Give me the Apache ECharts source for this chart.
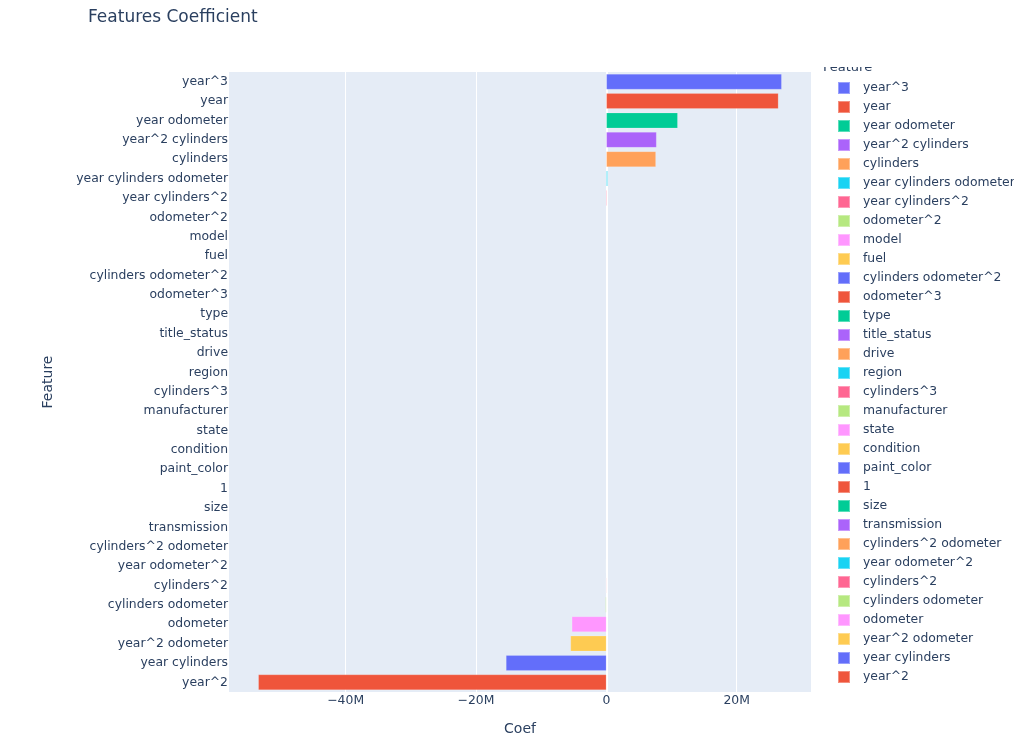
<!DOCTYPE html>
<html>
<head>
<meta charset="utf-8">
<script src="https://cdn.jsdelivr.net/npm/echarts@6/dist/echarts.min.js"></script>
<style>html,body{margin:0;padding:0;background:#fff;}#chart{width:1014px;height:741px;}</style>
</head>
<body>
<div id="chart"></div>
<script>
const features = ["year^3","year","year odometer","year^2 cylinders","cylinders","year cylinders odometer","year cylinders^2","odometer^2","model","fuel","cylinders odometer^2","odometer^3","type","title_status","drive","region","cylinders^3","manufacturer","state","condition","paint_color","1","size","transmission","cylinders^2 odometer","year odometer^2","cylinders^2","cylinders odometer","odometer","year^2 odometer","year cylinders","year^2"];
const coefs = [26.9e6,26.4e6,10.95e6,7.7e6,7.6e6,0.2e6,0.12e6,0.05e6,0.03e6,0.02e6,0.015e6,0.01e6,0.008e6,0.006e6,0.005e6,0.004e6,0.003e6,0.002e6,0.001e6,0.0005e6,0.0002e6,0,-0.0005e6,-0.001e6,-0.003e6,-0.06e6,-0.09e6,-0.13e6,-5.3e6,-5.5e6,-15.4e6,-53.4e6];
const xTicks = [-40e6,-20e6,0,20e6];
const palette = ['#636efa','#EF553B','#00cc96','#ab63fa','#FFA15A','#19d3f3','#FF6692','#B6E880','#FF97FF','#FECB52'];

const FONT = '"DejaVu Sans", verdana, arial, sans-serif';
const FS = 12.4;
const fmt = v => v === 0 ? '0' : (v < 0 ? '\u2212' : '') + Math.abs(v/1e6) + 'M';
const series = features.map((f, i) => ({
  name: f,
  type: 'bar',
  stack: 'all',
  barWidth: '80%',
  itemStyle: {color: palette[i % palette.length], borderColor: 'rgba(255,255,255,0.35)', borderWidth: 0.5},
  data: features.map((g, j) => j === i ? coefs[i] : null),
  markLine: i === 0 ? {silent: true, symbol: 'none', label: {show: false}, lineStyle: {color: '#fff', width: 2, type: 'solid'}, data: [{xAxis: 0}], z: 1} : undefined
}));

const chart = echarts.init(document.getElementById('chart'));
chart.setOption({
  animation: false,
  backgroundColor: '#fff',
  textStyle: {fontFamily: FONT},
  title: {text: 'Features Coefficient', left: 83, top: 4, textStyle: {fontSize: 17, fontWeight: 'normal', color: '#2a3f5f', fontFamily: FONT}},
  grid: {left: 229, right: 203, top: 72, bottom: 49, show: true, backgroundColor: '#E5ECF6', borderWidth: 0, containLabel: false},
  legend: {
    orient: 'vertical', left: 837, top: 81, itemWidth: 12, itemHeight: 12, itemGap: 5,
    icon: 'rect', padding: 0,
    textStyle: {fontSize: FS, color: '#2a3f5f', fontFamily: FONT, padding: [0,0,0,8], lineHeight: 14},
    data: features
  },
  xAxis: {
    type: 'value', min: -57.9e6, max: 31.4e6,
    name: 'Coef', nameLocation: 'middle', nameGap: 30,
    nameTextStyle: {fontSize: 14, color: '#2a3f5f', fontFamily: FONT},
    axisLine: {show: false},
    axisTick: {show: false, customValues: xTicks},
    axisLabel: {customValues: xTicks, formatter: fmt, fontSize: FS, color: '#2a3f5f', margin: 3, fontFamily: FONT},
    splitLine: {show: true, lineStyle: {color: '#fff', width: 1}}
  },
  yAxis: {
    type: 'category', data: features, inverse: true,
    name: 'Feature', nameLocation: 'middle', nameGap: 174, nameRotate: 90,
    nameTextStyle: {fontSize: 14, color: '#2a3f5f', fontFamily: FONT},
    axisLine: {show: false}, axisTick: {show: false},
    axisLabel: {fontSize: FS, color: '#2a3f5f', margin: 1, interval: 0, fontFamily: FONT},
    splitLine: {show: false}
  },
  graphic: [
    {type: 'text', left: 823, top: 61, style: {text: 'Feature', fontSize: 13, fill: '#2a3f5f', fontFamily: FONT}, z: 10},
    {type: 'rect', shape: {x: 815, y: 40, width: 100, height: 27}, style: {fill: '#fff'}, z: 11}
  ],
  series: series
});
</script>
</body>
</html>
